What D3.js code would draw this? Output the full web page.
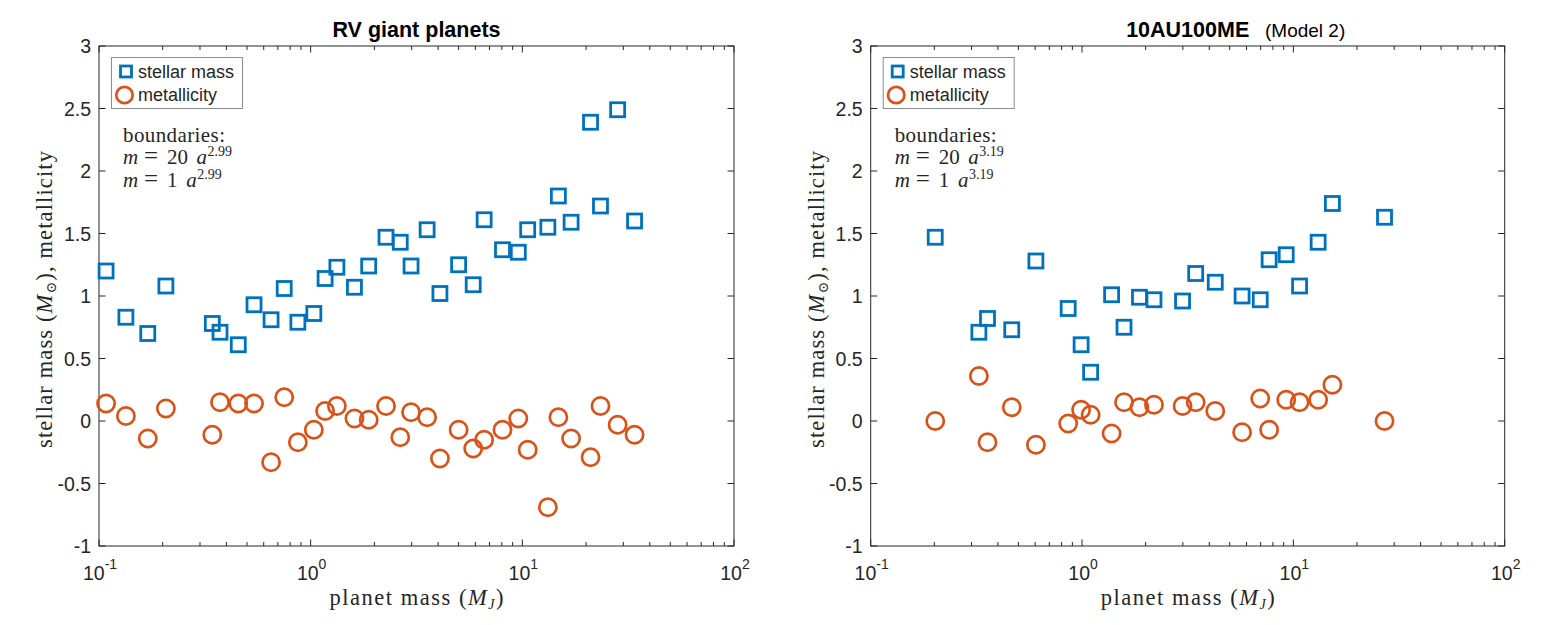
<!DOCTYPE html>
<html>
<head>
<meta charset="utf-8">
<script src="https://cdn.jsdelivr.net/npm/d3@7"></script>
<style>
  html, body { margin: 0; padding: 0; background: #fff; }
  svg { display: block; }
  .tick-label { font-family: "Liberation Sans", Arial, sans-serif; fill: #262626; }
  .serif { font-family: "Liberation Serif", "DejaVu Serif", serif; fill: #262626; }
</style>
</head>
<body>
<svg id="chart" width="1547" height="625"></svg>
<script>
// RV giant planets (left panel)
const rvMass = [0.108, 0.134, 0.170, 0.207, 0.343, 0.373, 0.455, 0.54, 0.65, 0.75, 0.87, 1.035,
  1.17, 1.33, 1.61, 1.88, 2.27, 2.65, 2.98, 3.55, 4.08, 5.0, 5.86, 6.6, 8.06, 9.57, 10.6,
  13.2, 14.8, 17.0, 21.0, 23.4, 28.2, 33.9];
const rvStellar = [1.20, 0.83, 0.70, 1.08, 0.78, 0.71, 0.61, 0.93, 0.81, 1.06, 0.79, 0.86,
  1.14, 1.23, 1.07, 1.24, 1.47, 1.43, 1.24, 1.53, 1.02, 1.25, 1.09, 1.61, 1.37, 1.35, 1.53,
  1.55, 1.80, 1.59, 2.39, 1.72, 2.49, 1.60];
const rvMetal = [0.14, 0.04, -0.14, 0.10, -0.11, 0.15, 0.14, 0.14, -0.33, 0.19, -0.17, -0.07,
  0.08, 0.12, 0.02, 0.01, 0.12, -0.13, 0.07, 0.03, -0.30, -0.07, -0.22, -0.15, -0.07, 0.02, -0.23,
  -0.69, 0.03, -0.14, -0.29, 0.12, -0.03, -0.11];

// 10AU100ME, Model 2 (right panel)
const m2Mass = [0.202, 0.325, 0.357, 0.465, 0.605, 0.86, 0.99, 1.098, 1.38, 1.58, 1.87, 2.19,
  2.99, 3.45, 4.27, 5.72, 6.97, 7.68, 9.25, 10.7, 13.1, 15.3, 27.0];
const m2Stellar = [1.47, 0.71, 0.82, 0.73, 1.28, 0.90, 0.61, 0.39, 1.01, 0.75, 0.99, 0.97,
  0.96, 1.18, 1.11, 1.00, 0.97, 1.29, 1.33, 1.08, 1.43, 1.74, 1.63];
const m2Metal = [0.00, 0.36, -0.17, 0.11, -0.19, -0.02, 0.09, 0.05, -0.10, 0.15, 0.11, 0.13,
  0.12, 0.15, 0.08, -0.09, 0.18, -0.07, 0.17, 0.15, 0.17, 0.29, 0.00];

const yTicks = [-1, -0.5, 0, 0.5, 1, 1.5, 2, 2.5, 3];
const xTickExps = [-1, 0, 1, 2];
const legendLabels = ["stellar mass", "metallicity"];
const boundCoefs = ["20", "1"];

const BLUE = "#0072BD";
const ORANGE = "#D95319";
const AXIS = "#262626";

const svg = d3.select("#chart");

function drawPanel(opts) {
  const x = d3.scaleLog().domain([0.1, 100]).range([opts.x0, opts.x1]);
  const y = d3.scaleLinear().domain([-1, 3]).range([546, 46]);
  const g = svg.append("g");

  // box
  g.append("rect")
    .attr("x", opts.x0).attr("y", 46)
    .attr("width", opts.x1 - opts.x0).attr("height", 500)
    .attr("fill", "none").attr("stroke", AXIS).attr("stroke-width", 1);

  // y ticks (inward, both sides)
  yTicks.forEach((t) => {
    const yy = y(t);
    g.append("line").attr("x1", opts.x0).attr("x2", opts.x0 + 6.5)
      .attr("y1", yy).attr("y2", yy).attr("stroke", AXIS);
    g.append("line").attr("x1", opts.x1).attr("x2", opts.x1 - 6.5)
      .attr("y1", yy).attr("y2", yy).attr("stroke", AXIS);
    g.append("text").attr("class", "tick-label")
      .attr("x", opts.x0 - 8).attr("y", yy + 7)
      .attr("text-anchor", "end")
      .style("font-size", "19.5px")
      .text(String(t));
  });

  // x ticks: majors + minors on log axis
  for (let e = -1; e < 2; e++) {
    for (let k = 2; k <= 9; k++) {
      const xx = x(k * Math.pow(10, e));
      g.append("line").attr("x1", xx).attr("x2", xx).attr("y1", 546).attr("y2", 542).attr("stroke", AXIS);
      g.append("line").attr("x1", xx).attr("x2", xx).attr("y1", 46).attr("y2", 50).attr("stroke", AXIS);
    }
  }
  xTickExps.forEach((e) => {
    const xx = x(Math.pow(10, e));
    g.append("line").attr("x1", xx).attr("x2", xx).attr("y1", 546).attr("y2", 539.5).attr("stroke", AXIS);
    g.append("line").attr("x1", xx).attr("x2", xx).attr("y1", 46).attr("y2", 52.5).attr("stroke", AXIS);
    const t = g.append("text").attr("class", "tick-label")
      .attr("x", xx + 1).attr("y", 580)
      .attr("text-anchor", "middle")
      .style("font-size", "19.5px");
    t.append("tspan").text("10");
    t.append("tspan").attr("dy", -11).style("font-size", "14px").text(String(e));
  });

  // markers: squares then circles
  const s = 14;
  g.selectAll("rect.sq").data(opts.mass.map((m, i) => [m, opts.stellar[i]]))
    .enter().append("rect").attr("class", "sq")
    .attr("x", (d) => x(d[0]) - s / 2).attr("y", (d) => y(d[1]) - s / 2)
    .attr("width", s).attr("height", s)
    .attr("fill", "none").attr("stroke", BLUE).attr("stroke-width", 2.8);

  g.selectAll("circle.ci").data(opts.mass.map((m, i) => [m, opts.metal[i]]))
    .enter().append("circle").attr("class", "ci")
    .attr("cx", (d) => x(d[0])).attr("cy", (d) => y(d[1]))
    .attr("r", 8.6)
    .attr("fill", "none").attr("stroke", ORANGE).attr("stroke-width", 2.7);

  // legend
  const lx = opts.x0 + 12.5, ly = 57.5;
  g.append("rect").attr("x", lx).attr("y", ly).attr("width", 131).attr("height", 51)
    .attr("fill", "#fff").attr("stroke", "#8c8c8c").attr("stroke-width", 1);
  g.append("rect").attr("x", lx + 9).attr("y", ly + 8.5).attr("width", 11).attr("height", 11)
    .attr("fill", "none").attr("stroke", BLUE).attr("stroke-width", 2.8);
  g.append("circle").attr("cx", lx + 13).attr("cy", ly + 37.5).attr("r", 8.2)
    .attr("fill", "none").attr("stroke", ORANGE).attr("stroke-width", 2.7);
  legendLabels.forEach((lab, i) => {
    g.append("text").attr("class", "tick-label")
      .attr("x", lx + 26.5).attr("y", ly + 20 + i * 23.5)
      .style("font-size", "18px").text(lab);
  });

  // boundaries text (LaTeX-like)
  const bx = opts.x0 + 24;
  g.append("text").attr("class", "serif").attr("x", bx).attr("y", 141.5)
    .attr("textLength", 102).attr("lengthAdjust", "spacing")
    .style("font-size", "21px").text("boundaries:");
  boundCoefs.forEach((c, i) => {
    const yy = 163.8 + i * 23;
    const ax = bx + 45 + 10.3 * c.length + 8;
    const t = g.append("text").attr("class", "serif").attr("y", yy).style("font-size", "21px");
    t.append("tspan").attr("x", bx).style("font-style", "italic").text("m");
    t.append("tspan").attr("x", bx + 21).style("font-size", "25px").text("=");
    t.append("tspan").attr("x", bx + 44).text(c);
    t.append("tspan").attr("x", ax).style("font-style", "italic").text("a");
    t.append("tspan").attr("x", ax + 11).attr("dy", -8).style("font-size", "14px").text(opts.expo);
  });

  // axis labels
  const cx = (opts.x0 + opts.x1) / 2;
  const xl = g.append("text").attr("class", "serif").attr("x", cx).attr("y", 605)
    .attr("text-anchor", "middle").attr("textLength", 174).attr("lengthAdjust", "spacing")
    .style("font-size", "22.5px");
  xl.append("tspan").text("planet mass (");
  xl.append("tspan").style("font-style", "italic").text("M");
  xl.append("tspan").attr("dy", 4).style("font-size", "14px").style("font-style", "italic").text("J");
  xl.append("tspan").attr("dy", -4).text(")");

  const yl = g.append("text").attr("class", "serif")
    .attr("transform", `translate(${opts.x0 - 47},299.5) rotate(-90)`)
    .attr("text-anchor", "middle").attr("textLength", 297).attr("lengthAdjust", "spacing")
    .style("font-size", "22.5px");
  yl.append("tspan").text("stellar mass (");
  yl.append("tspan").style("font-style", "italic").text("M");
  yl.append("tspan").attr("dy", 4).style("font-size", "14px").text("\u2299");
  yl.append("tspan").attr("dy", -4).text("), metallicity");

  // title
  g.append("text").attr("x", cx).attr("y", 37)
    .attr("text-anchor", "middle")
    .style("font-family", "Liberation Sans, Arial, sans-serif")
    .style("font-weight", "bold").style("font-size", "21.5px").style("fill", "#000")
    .text(opts.title);
  if (opts.subtitle) {
    g.append("text").attr("x", opts.subX).attr("y", 37)
      .style("font-family", "Liberation Sans, Arial, sans-serif")
      .style("font-size", "19px").style("fill", "#000")
      .text(opts.subtitle);
  }
}

drawPanel({ x0: 99, x1: 734, mass: rvMass, stellar: rvStellar, metal: rvMetal,
  expo: "2.99", title: "RV giant planets" });
drawPanel({ x0: 870.7, x1: 1504.7, mass: m2Mass, stellar: m2Stellar, metal: m2Metal,
  expo: "3.19", title: "10AU100ME", subtitle: "(Model 2)", subX: 1265 });
</script>
</body>
</html>
